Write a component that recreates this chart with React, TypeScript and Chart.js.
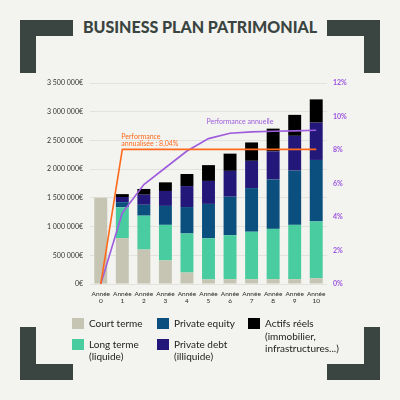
import React, { useEffect, useRef } from "react";
import { Chart, registerables } from "chart.js";

Chart.register(...registerables);

const years = ["0", "1", "2", "3", "4", "5", "6", "7", "8", "9", "10"];
const courtTerme = [1500000, 800000, 600000, 410000, 200000, 80000, 85000, 85000, 85000, 85000, 100000];
const longTerme = [0, 535000, 590000, 620000, 680000, 715000, 765000, 825000, 875000, 945000, 990000];
const privateEquity = [0, 90000, 190000, 330000, 460000, 600000, 670000, 760000, 860000, 945000, 1070000];
const privateDebt = [0, 90000, 175000, 260000, 365000, 400000, 450000, 475000, 490000, 605000, 650000];
const actifsReels = [0, 50000, 100000, 150000, 210000, 275000, 300000, 320000, 395000, 365000, 405000];
const perfAnnualisee = [0, 8.04, 8.04, 8.04, 8.04, 8.04, 8.04, 8.04, 8.04, 8.04, 8.04];
const perfAnnuelle = [0, 4.24, 5.94, 6.94, 7.94, 8.68, 9.0, 9.08, 9.12, 9.14, 9.18];

const barLabels = [
  "Court terme",
  "Long terme\n(liquide)",
  "Private equity",
  "Private debt\n(illiquide)",
  "Actifs réels\n(immobilier,\ninfrastructures...)",
];
const barColors = ["#c6c5b3", "#49cc9f", "#0b4f7f", "#23187a", "#000000"];
const lineLabels = ["Performance annualisée : 8,04%", "Performance annuelle"];
const lineColors = ["#ff6a1c", "#9e5ddc"];

const DARK = "#3a4441";
const BG = "#f3f3ef";
const FONT = "Lato, 'Open Sans', sans-serif";

const fmtEuro = (v: number) => String(v).replace(/\B(?=(\d{3})+(?!\d))/g, " ") + "€";

export default function App() {
  const ref = useRef<HTMLCanvasElement | null>(null);

  useEffect(() => {
    if (!ref.current) return;
    const barSeries = [courtTerme, longTerme, privateEquity, privateDebt, actifsReels];
    const labelPlugin = {
      id: "lineLabels",
      afterDatasetsDraw(chart: any) {
        const { ctx, scales } = chart;
        const x = scales.x;
        const y1 = scales.y1;
        ctx.save();
        ctx.font = `7px ${FONT}`;
        ctx.textBaseline = "middle";
        ctx.textAlign = "left";
        ctx.fillStyle = lineColors[0];
        const [l1, l2] = ["Performance", "annualisée : 8,04%"];
        const ox = x.getPixelForValue(1) - 1;
        const oy = y1.getPixelForValue(perfAnnualisee[1]);
        ctx.fillText(l1, ox, oy - 13);
        ctx.fillText(l2, ox, oy - 5.5);
        ctx.fillStyle = lineColors[1];
        const px = x.getPixelForValue(5) - 2;
        const py = y1.getPixelForValue(perfAnnuelle[10]) - 8;
        ctx.fillText(lineLabels[1], px, py);
        ctx.restore();
      },
    };
    const chart = new Chart(ref.current, {
      type: "bar",
      data: {
        labels: years.map((y) => ["Année", y]),
        datasets: [
          {
            type: "line",
            label: lineLabels[0],
            data: perfAnnualisee,
            yAxisID: "y1",
            borderColor: lineColors[0],
            borderWidth: 1.6,
            pointRadius: 0,
            tension: 0,
            order: 0,
          } as any,
          {
            type: "line",
            label: lineLabels[1],
            data: perfAnnuelle,
            yAxisID: "y1",
            borderColor: lineColors[1],
            borderWidth: 1.6,
            pointRadius: 0,
            tension: 0,
            order: 0,
          } as any,
          ...barSeries.map((d, i) => ({
            type: "bar",
            label: barLabels[i],
            data: d,
            yAxisID: "y",
            backgroundColor: barColors[i],
            borderWidth: 0,
            stack: "s",
            barPercentage: 0.6,
            categoryPercentage: 1,
            order: 1,
          })),
        ],
      },
      options: {
        responsive: false,
        animation: false,
        devicePixelRatio: 1,
        layout: { padding: { top: 83, bottom: 92, left: 0, right: 0 } },
        plugins: { legend: { display: false }, tooltip: { enabled: false } },
        scales: {
          x: {
            stacked: true,
            grid: { display: false, drawTicks: false },
            border: { display: false },
            ticks: {
              color: "#2b2b2b",
              font: { size: 6.5, family: FONT, lineHeight: 1.1 },
              padding: 6,
              maxRotation: 0,
              autoSkip: false,
            },
            afterFit: (s: any) => {
              s.height = 24;
            },
          },
          y: {
            stacked: true,
            position: "left",
            min: 0,
            max: 3500000,
            grid: { color: "#e3e3de", lineWidth: 1, drawTicks: false },
            border: { display: false },
            ticks: {
              stepSize: 500000,
              padding: 7,
              color: "#333333",
              font: { size: 7, family: FONT },
              callback: (v: any) => fmtEuro(Number(v)),
            },
            afterFit: (s: any) => {
              s.width = 90;
            },
          },
          y1: {
            position: "right",
            min: 0,
            max: 12,
            grid: { display: false, drawTicks: false },
            border: { display: false },
            ticks: {
              stepSize: 2,
              padding: 6,
              color: "#9b55e0",
              font: { size: 7, family: FONT, weight: "bold" },
              callback: (v: any) => v + "%",
            },
            afterFit: (s: any) => {
              s.width = 73;
            },
          },
        },
      } as any,
      plugins: [labelPlugin],
    });
    return () => chart.destroy();
  }, []);

  const bracket = (style: React.CSSProperties, key: string) => (
    <div key={key} style={{ position: "absolute", background: DARK, ...style }} />
  );

  const colX = [72, 157, 248];

  return (
    <div
      style={{
        position: "fixed",
        left: 0,
        top: 0,
        width: 400,
        height: 400,
        background: BG,
        fontFamily: FONT,
        overflow: "hidden",
      }}
    >
      {bracket({ left: 20, top: 20, width: 53, height: 16 }, "a1")}
      {bracket({ left: 20, top: 20, width: 16, height: 53 }, "a2")}
      {bracket({ left: 327, top: 20, width: 53, height: 16 }, "b1")}
      {bracket({ left: 364, top: 20, width: 16, height: 53 }, "b2")}
      {bracket({ left: 20, top: 364, width: 53, height: 16 }, "c1")}
      {bracket({ left: 20, top: 327, width: 16, height: 53 }, "c2")}
      {bracket({ left: 327, top: 364, width: 53, height: 16 }, "d1")}
      {bracket({ left: 364, top: 327, width: 16, height: 53 }, "d2")}
      <div
        style={{
          position: "absolute",
          left: 0,
          width: 400,
          top: 17,
          textAlign: "center",
          fontSize: 16,
          fontWeight: 900,
          color: DARK,
          lineHeight: "20px",
        }}
      >
        BUSINESS PLAN PATRIMONIAL
      </div>
      <canvas
        ref={ref}
        width={400}
        height={400}
        style={{ position: "absolute", left: 0, top: 0, width: 400, height: 400 }}
      />
      {barLabels.map((lab, i) => {
        const col = Math.floor(i / 2);
        const row = i % 2;
        const bx = colX[col];
        const by = 318 + row * 20.5;
        return (
          <React.Fragment key={lab}>
            <div
              style={{
                position: "absolute",
                left: bx,
                top: by,
                width: 12,
                height: 11,
                background: barColors[i],
              }}
            />
            <div
              style={{
                position: "absolute",
                left: bx + 17,
                top: by + 5.5 - 6.2,
                fontSize: 10,
                lineHeight: "12.3px",
                color: "#222222",
                whiteSpace: "pre-line",
              }}
            >
              {lab}
            </div>
          </React.Fragment>
        );
      })}
    </div>
  );
}
